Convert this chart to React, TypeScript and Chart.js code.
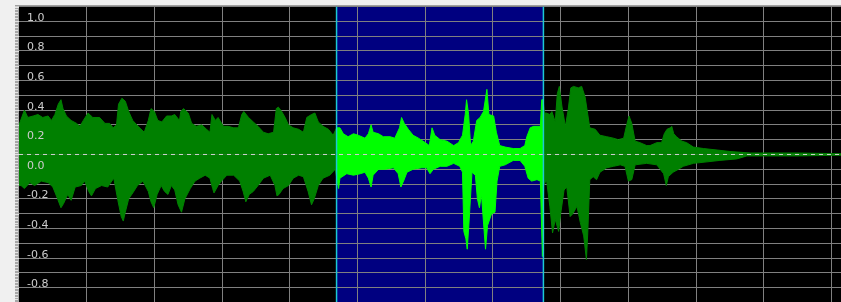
import React, { useEffect, useRef } from 'react';
import { Chart, registerables } from 'chart.js';

Chart.register(...registerables);

// Time axis (grid spacing = 1 unit) and selection
const TIME_END = 12.14;
const SELECTION_START = 4.69;
const SELECTION_END = 7.745;
const X_GRID = [1, 2, 3, 4, 5, 6, 7, 8, 9, 10, 11, 12];

// Amplitude axis
const Y_MAX = 1.0;
const Y_MIN = -0.997;
const Y_GRID = [1.0, 0.9, 0.8, 0.7, 0.6, 0.5, 0.4, 0.3, 0.2, 0.1, 0, -0.1, -0.2, -0.3, -0.4, -0.5, -0.6, -0.7, -0.8, -0.9];
const Y_LABELS = ['1.0', '0.8', '0.6', '0.4', '0.2', '0.0', '-0.2', '-0.4', '-0.6', '-0.8'];

// Waveform envelope: [time, amplitude]
const upperEnvelope: [number, number][] = [
  [0.00, 0.20], [0.08, 0.30], [0.13, 0.25], [0.21, 0.26], [0.28, 0.27], [0.35, 0.25], [0.43, 0.26], [0.48, 0.23],
  [0.53, 0.27], [0.58, 0.34], [0.62, 0.37], [0.65, 0.31], [0.70, 0.26], [0.77, 0.23], [0.85, 0.21], [0.90, 0.19],
  [0.95, 0.23], [1.02, 0.28], [1.09, 0.25], [1.19, 0.25], [1.27, 0.21], [1.34, 0.21], [1.39, 0.18], [1.44, 0.20],
  [1.47, 0.34], [1.52, 0.38], [1.57, 0.36], [1.62, 0.29], [1.68, 0.23], [1.76, 0.19], [1.85, 0.15], [1.91, 0.23],
  [1.95, 0.31], [2.00, 0.29], [2.05, 0.23], [2.11, 0.22], [2.18, 0.26], [2.25, 0.26], [2.30, 0.27], [2.37, 0.23],
  [2.39, 0.29], [2.43, 0.31], [2.50, 0.28], [2.55, 0.21], [2.62, 0.19], [2.70, 0.20], [2.77, 0.17], [2.82, 0.15],
  [2.85, 0.27], [2.90, 0.23], [2.94, 0.25], [3.02, 0.19], [3.09, 0.19], [3.17, 0.18], [3.24, 0.18], [3.29, 0.27],
  [3.32, 0.29], [3.39, 0.25], [3.46, 0.22], [3.53, 0.19], [3.61, 0.15], [3.68, 0.14], [3.76, 0.15], [3.80, 0.31],
  [3.83, 0.32], [3.88, 0.29], [3.93, 0.25], [3.98, 0.20], [4.05, 0.18], [4.13, 0.17], [4.20, 0.15], [4.25, 0.25],
  [4.32, 0.27], [4.37, 0.28], [4.42, 0.22], [4.49, 0.19], [4.57, 0.17], [4.64, 0.13], [4.69, 0.18], [4.74, 0.18],
  [4.79, 0.14], [4.86, 0.12], [4.94, 0.14], [5.01, 0.13], [5.11, 0.11], [5.16, 0.14], [5.20, 0.20], [5.23, 0.15],
  [5.31, 0.14], [5.38, 0.12], [5.48, 0.12], [5.55, 0.11], [5.62, 0.18], [5.65, 0.25], [5.69, 0.21], [5.75, 0.17],
  [5.82, 0.13], [5.90, 0.11], [6.00, 0.08], [6.06, 0.06], [6.10, 0.18], [6.14, 0.13], [6.22, 0.10], [6.32, 0.09],
  [6.42, 0.06], [6.49, 0.08], [6.55, 0.13], [6.59, 0.27], [6.61, 0.37], [6.64, 0.27], [6.67, 0.06], [6.71, 0.09],
  [6.76, 0.23], [6.81, 0.25], [6.86, 0.29], [6.91, 0.44], [6.94, 0.27], [7.01, 0.26], [7.05, 0.15], [7.10, 0.06],
  [7.18, 0.05], [7.30, 0.04], [7.40, 0.04], [7.47, 0.06], [7.50, 0.12], [7.55, 0.18], [7.60, 0.19], [7.70, 0.19],
  [7.72, 0.37], [7.74, 0.37], [7.76, 0.28], [7.79, 0.28], [7.84, 0.27], [7.87, 0.29], [7.92, 0.22], [7.95, 0.41],
  [7.98, 0.46], [8.02, 0.32], [8.07, 0.19], [8.11, 0.30], [8.15, 0.45], [8.19, 0.46], [8.26, 0.45], [8.31, 0.46],
  [8.36, 0.39], [8.39, 0.30], [8.43, 0.18], [8.51, 0.17], [8.58, 0.13], [8.68, 0.12], [8.78, 0.11], [8.85, 0.10],
  [8.93, 0.11], [8.98, 0.21], [9.01, 0.26], [9.05, 0.21], [9.10, 0.09], [9.17, 0.08], [9.27, 0.06], [9.32, 0.06],
  [9.42, 0.08], [9.49, 0.08], [9.53, 0.14], [9.57, 0.17], [9.62, 0.18], [9.64, 0.19], [9.67, 0.14], [9.71, 0.12],
  [9.79, 0.09], [9.86, 0.08], [9.96, 0.05], [10.11, 0.04], [10.31, 0.03], [10.50, 0.02], [10.80, 0.01], [11.49, 0.01],
  [12.14, 0.005],
];

const lowerEnvelope: [number, number][] = [
  [0.00, -0.21], [0.03, -0.21], [0.08, -0.23], [0.16, -0.19], [0.23, -0.21], [0.33, -0.18], [0.43, -0.19], [0.50, -0.22],
  [0.57, -0.30], [0.62, -0.36], [0.66, -0.33], [0.72, -0.27], [0.77, -0.31], [0.83, -0.22], [0.92, -0.21], [0.97, -0.18],
  [1.03, -0.25], [1.07, -0.28], [1.13, -0.23], [1.22, -0.21], [1.31, -0.22], [1.40, -0.16], [1.46, -0.31], [1.51, -0.42],
  [1.54, -0.45], [1.57, -0.39], [1.62, -0.30], [1.68, -0.26], [1.75, -0.21], [1.83, -0.18], [1.91, -0.25], [1.95, -0.32],
  [1.99, -0.36], [2.04, -0.27], [2.10, -0.21], [2.15, -0.25], [2.20, -0.27], [2.25, -0.21], [2.30, -0.24], [2.35, -0.34],
  [2.40, -0.39], [2.45, -0.30], [2.53, -0.23], [2.60, -0.18], [2.67, -0.16], [2.75, -0.14], [2.82, -0.16], [2.86, -0.23],
  [2.88, -0.26], [2.94, -0.21], [2.99, -0.18], [3.07, -0.14], [3.17, -0.14], [3.26, -0.18], [3.31, -0.25], [3.35, -0.32],
  [3.40, -0.27], [3.46, -0.25], [3.53, -0.21], [3.61, -0.16], [3.71, -0.14], [3.78, -0.21], [3.81, -0.28], [3.84, -0.27],
  [3.90, -0.23], [3.98, -0.21], [4.05, -0.16], [4.13, -0.14], [4.20, -0.15], [4.27, -0.25], [4.32, -0.34], [4.36, -0.30],
  [4.42, -0.21], [4.49, -0.16], [4.59, -0.14], [4.67, -0.10], [4.72, -0.23], [4.74, -0.16], [4.84, -0.13], [4.94, -0.14],
  [5.04, -0.13], [5.11, -0.12], [5.16, -0.16], [5.20, -0.22], [5.23, -0.14], [5.31, -0.10], [5.41, -0.10], [5.53, -0.09],
  [5.60, -0.13], [5.64, -0.22], [5.68, -0.18], [5.73, -0.12], [5.82, -0.10], [5.95, -0.09], [6.02, -0.09], [6.07, -0.13],
  [6.12, -0.10], [6.22, -0.08], [6.32, -0.08], [6.42, -0.06], [6.51, -0.08], [6.55, -0.12], [6.57, -0.52], [6.60, -0.57],
  [6.62, -0.64], [6.65, -0.43], [6.69, -0.12], [6.74, -0.14], [6.77, -0.30], [6.80, -0.36], [6.83, -0.27], [6.87, -0.52],
  [6.89, -0.64], [6.92, -0.48], [6.98, -0.40], [7.03, -0.39], [7.06, -0.18], [7.10, -0.08], [7.18, -0.07], [7.30, -0.04],
  [7.40, -0.04], [7.47, -0.08], [7.52, -0.16], [7.57, -0.18], [7.65, -0.17], [7.70, -0.18], [7.73, -0.69], [7.75, -0.21],
  [7.79, -0.17], [7.84, -0.35], [7.88, -0.53], [7.92, -0.44], [7.97, -0.52], [8.00, -0.40], [8.05, -0.24], [8.09, -0.22],
  [8.14, -0.42], [8.18, -0.40], [8.24, -0.35], [8.29, -0.46], [8.34, -0.55], [8.38, -0.71], [8.40, -0.53], [8.43, -0.17],
  [8.48, -0.15], [8.53, -0.17], [8.58, -0.12], [8.68, -0.09], [8.78, -0.08], [8.88, -0.07], [8.95, -0.08], [9.00, -0.18],
  [9.05, -0.17], [9.10, -0.07], [9.27, -0.06], [9.42, -0.07], [9.52, -0.13], [9.56, -0.21], [9.59, -0.15], [9.66, -0.12],
  [9.74, -0.10], [9.81, -0.08], [9.96, -0.06], [10.16, -0.05], [10.35, -0.04], [10.60, -0.03], [10.75, -0.01], [11.49, -0.01],
  [12.14, -0.005],
];

const DARK_GREEN = '#008000';
const BRIGHT_GREEN = '#00ff00';
const SELECTION_FILL = '#000080';
const SELECTION_EDGE = '#1cc8d4';
const GRID = '#808080';
const ZERO_LINE = '#d0d0d0';
const LABEL = '#cccccc';
const FRAME = '#f0f0f0';

function waveColor(ctx: any) {
  const chart = ctx.chart;
  const area = chart.chartArea;
  const xs = chart.scales && chart.scales.x;
  if (!area || !xs) return DARK_GREEN;
  const x0 = area.left;
  const x1 = area.right;
  const clamp = (v: number) => Math.max(0, Math.min(1, v));
  const a = clamp((xs.getPixelForValue(SELECTION_START) - x0) / (x1 - x0));
  const b = clamp((xs.getPixelForValue(SELECTION_END) - x0) / (x1 - x0));
  const g = chart.ctx.createLinearGradient(x0, 0, x1, 0);
  g.addColorStop(0, DARK_GREEN);
  g.addColorStop(a, DARK_GREEN);
  g.addColorStop(a, BRIGHT_GREEN);
  g.addColorStop(b, BRIGHT_GREEN);
  g.addColorStop(b, DARK_GREEN);
  g.addColorStop(1, DARK_GREEN);
  return g;
}

const zeroPadding = (axis: any) => {
  axis.paddingTop = 0;
  axis.paddingBottom = 0;
  axis.paddingLeft = 0;
  axis.paddingRight = 0;
};

const framePlugin = {
  id: 'editorFrame',
  beforeDraw(chart: any) {
    const { ctx, chartArea: a, scales, width, height } = chart;
    ctx.save();
    ctx.fillStyle = FRAME;
    ctx.fillRect(0, 0, width, height);
    // top edge line
    ctx.fillStyle = '#a0a0a0';
    ctx.fillRect(15, Math.floor(a.top) - 1, width - 15, 1);
    // ruler strip
    ctx.fillStyle = '#a8a8a8';
    ctx.fillRect(15, a.top, a.left - 15, height - a.top);
    ctx.strokeStyle = '#e4e4e4';
    ctx.lineWidth = 1;
    for (let i = -50; i <= 50; i++) {
      const y = Math.round(scales.y.getPixelForValue(i * 0.02)) + 0.5;
      if (y < a.top || y > height) continue;
      ctx.beginPath();
      ctx.moveTo(15, y);
      ctx.lineTo(i % 5 === 0 ? a.left : 18, y);
      ctx.stroke();
    }
    // plot background
    ctx.fillStyle = '#000000';
    ctx.fillRect(a.left, a.top, a.right - a.left, a.bottom - a.top);
    // selection
    const s0 = scales.x.getPixelForValue(SELECTION_START);
    const s1 = scales.x.getPixelForValue(SELECTION_END);
    ctx.fillStyle = SELECTION_FILL;
    ctx.fillRect(s0, a.top, s1 - s0, a.bottom - a.top);
    ctx.restore();
  },
};

export default function App() {
  const canvasRef = useRef<HTMLCanvasElement | null>(null);

  useEffect(() => {
    const canvas = canvasRef.current;
    if (!canvas) return;
    const toPoints = (env: [number, number][]) => env.map(([x, y]) => ({ x, y }));
    const chart = new Chart(canvas, {
      type: 'line',
      data: {
        datasets: [
          {
            label: 'selection start',
            data: [{ x: SELECTION_START, y: Y_MIN }, { x: SELECTION_START, y: Y_MAX }],
            borderColor: SELECTION_EDGE,
            borderWidth: 1.5,
            pointRadius: 0,
            fill: false,
          },
          {
            label: 'selection end',
            data: [{ x: SELECTION_END, y: Y_MIN }, { x: SELECTION_END, y: Y_MAX }],
            borderColor: SELECTION_EDGE,
            borderWidth: 1.5,
            pointRadius: 0,
            fill: false,
          },
          {
            label: 'zero',
            data: [{ x: 0, y: 0 }, { x: TIME_END, y: 0 }],
            borderColor: ZERO_LINE,
            borderWidth: 1,
            borderDash: [4, 4],
            pointRadius: 0,
            fill: false,
          },
          {
            label: 'upper',
            data: toPoints(upperEnvelope),
            borderColor: waveColor,
            backgroundColor: waveColor,
            borderWidth: 1,
            pointRadius: 0,
            tension: 0,
            fill: 'origin',
          },
          {
            label: 'lower',
            data: toPoints(lowerEnvelope),
            borderColor: waveColor,
            backgroundColor: waveColor,
            borderWidth: 1,
            pointRadius: 0,
            tension: 0,
            fill: 'origin',
          },
        ],
      },
      options: {
        animation: false,
        responsive: false,
        devicePixelRatio: 1,
        events: [],
        layout: { autoPadding: false, padding: { top: 6.5, left: 0, right: 0, bottom: 0 } },
        plugins: {
          legend: { display: false },
          title: { display: false },
          tooltip: { enabled: false },
        },
        scales: {
          x: {
            type: 'linear',
            min: 0,
            max: TIME_END,
            afterBuildTicks: (axis: any) => {
              axis.ticks = X_GRID.map((v) => ({ value: v }));
            },
            afterFit: (axis: any) => {
              axis.height = 0;
              zeroPadding(axis);
            },
            ticks: { display: false },
            grid: { color: GRID, lineWidth: 1, drawTicks: false },
            border: { display: false },
          },
          y: {
            type: 'linear',
            position: 'left',
            min: Y_MIN,
            max: Y_MAX,
            afterBuildTicks: (axis: any) => {
              axis.ticks = Y_GRID.map((v) => ({ value: v }));
            },
            afterFit: (axis: any) => {
              axis.width = 19;
              zeroPadding(axis);
            },
            ticks: {
              mirror: true,
              padding: 8,
              labelOffset: 11.5,
              autoSkip: false,
              z: 1,
              color: LABEL,
              font: { family: 'DejaVu Sans', size: 11 },
              callback: (value: any) => {
                const hit = Y_LABELS.find((l) => Math.abs(parseFloat(l) - Number(value)) < 1e-6);
                return hit === undefined ? '' : hit;
              },
            },
            grid: { color: GRID, lineWidth: 1, drawTicks: false },
            border: { display: false },
          },
        },
      },
      plugins: [framePlugin],
    } as any);
    return () => chart.destroy();
  }, []);

  return (
    <div style={{ position: 'fixed', left: 0, top: 0, width: 841, height: 302, overflow: 'hidden', background: FRAME }}>
      <canvas ref={canvasRef} width={841} height={302} style={{ display: 'block', width: 841, height: 302 }} />
    </div>
  );
}
